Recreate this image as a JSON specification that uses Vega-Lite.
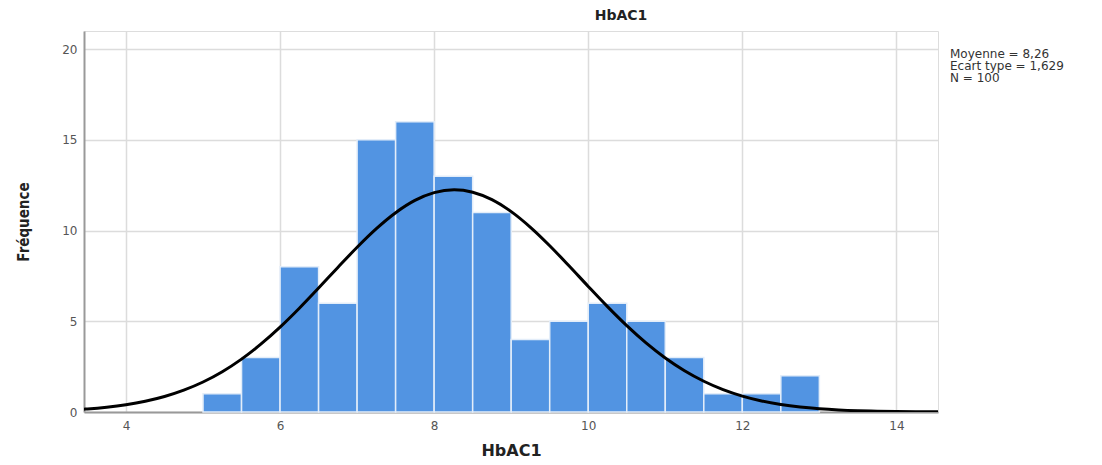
{
  "$schema": "https://vega.github.io/schema/vega-lite/v6.json",
  "autosize": "none",
  "width": 854,
  "height": 381,
  "padding": {"left": 84, "top": 31, "right": 164, "bottom": 53},
  "background": "white",
  "title": {"text": "HbAC1", "fontSize": 14, "fontWeight": "bold", "font": "DejaVu Sans", "color": "#222222", "anchor": "middle", "dx": 110, "offset": 8},
  "datasets": {
    "bins": [
      {"lo": 5.0, "hi": 5.5, "n": 1},
      {"lo": 5.5, "hi": 6.0, "n": 3},
      {"lo": 6.0, "hi": 6.5, "n": 8},
      {"lo": 6.5, "hi": 7.0, "n": 6},
      {"lo": 7.0, "hi": 7.5, "n": 15},
      {"lo": 7.5, "hi": 8.0, "n": 16},
      {"lo": 8.0, "hi": 8.5, "n": 13},
      {"lo": 8.5, "hi": 9.0, "n": 11},
      {"lo": 9.0, "hi": 9.5, "n": 4},
      {"lo": 9.5, "hi": 10.0, "n": 5},
      {"lo": 10.0, "hi": 10.5, "n": 6},
      {"lo": 10.5, "hi": 11.0, "n": 5},
      {"lo": 11.0, "hi": 11.5, "n": 3},
      {"lo": 11.5, "hi": 12.0, "n": 1},
      {"lo": 12.0, "hi": 12.5, "n": 1},
      {"lo": 12.5, "hi": 13.0, "n": 2}
    ],
    "curve": [
      {"x": 3.455, "y": 0.158}, {"x": 3.5, "y": 0.171}, {"x": 3.75, "y": 0.265}, {"x": 4.0, "y": 0.401},
      {"x": 4.25, "y": 0.592}, {"x": 4.5, "y": 0.853}, {"x": 4.75, "y": 1.202}, {"x": 5.0, "y": 1.653},
      {"x": 5.25, "y": 2.221}, {"x": 5.5, "y": 2.915}, {"x": 5.75, "y": 3.737}, {"x": 6.0, "y": 4.678},
      {"x": 6.25, "y": 5.72}, {"x": 6.5, "y": 6.832}, {"x": 6.75, "y": 7.969}, {"x": 7.0, "y": 9.08},
      {"x": 7.25, "y": 10.105}, {"x": 7.5, "y": 10.983}, {"x": 7.75, "y": 11.66}, {"x": 8.0, "y": 12.091},
      {"x": 8.26, "y": 12.246}, {"x": 8.5, "y": 12.114}, {"x": 8.75, "y": 11.704}, {"x": 9.0, "y": 11.046},
      {"x": 9.25, "y": 10.181}, {"x": 9.5, "y": 9.166}, {"x": 9.75, "y": 8.06}, {"x": 10.0, "y": 6.922},
      {"x": 10.25, "y": 5.807}, {"x": 10.5, "y": 4.758}, {"x": 10.75, "y": 3.807}, {"x": 11.0, "y": 2.976},
      {"x": 11.25, "y": 2.272}, {"x": 11.5, "y": 1.694}, {"x": 11.75, "y": 1.234}, {"x": 12.0, "y": 0.878},
      {"x": 12.25, "y": 0.61}, {"x": 12.5, "y": 0.414}, {"x": 12.75, "y": 0.274}, {"x": 13.0, "y": 0.178},
      {"x": 13.25, "y": 0.112}, {"x": 13.5, "y": 0.069}, {"x": 13.75, "y": 0.042}, {"x": 14.0, "y": 0.025},
      {"x": 14.25, "y": 0.014}, {"x": 14.54, "y": 0.007}
    ],
    "stats": [
      {"label": "Moyenne = 8,26"},
      {"label": "Ecart type = 1,629"},
      {"label": "N = 100"}
    ]
  },
  "layer": [
    {
      "data": {"name": "bins"},
      "mark": {"type": "rect", "color": "#5294e2", "stroke": "#e3edf9", "strokeWidth": 1.5},
      "encoding": {
        "x": {"field": "lo", "type": "quantitative", "scale": {"domain": [3.455, 14.54], "nice": false, "zero": false},
          "axis": {"values": [4, 6, 8, 10, 12, 14], "format": "d", "title": "HbAC1", "ticks": false, "labelPadding": 8, "labelFontSize": 12, "labelColor": "#555555", "labelFont": "DejaVu Sans",
            "titleFont": "DejaVu Sans", "titleFontSize": 16, "titleFontWeight": "bold", "titleColor": "#222222", "titlePadding": 11,
            "grid": true, "gridColor": "#dcdcdc", "gridWidth": 1.5, "domainColor": "#999999", "domainWidth": 2}},
        "x2": {"field": "hi"},
        "y": {"field": "n", "type": "quantitative", "scale": {"domain": [0, 21], "nice": false},
          "axis": {"values": [0, 5, 10, 15, 20], "format": "d", "title": "Fréquence", "ticks": false, "labelPadding": 7, "labelFontSize": 12, "labelColor": "#555555", "labelFont": "DejaVu Sans",
            "titleFont": "DejaVu Sans Condensed", "titleFontSize": 15, "titleFontWeight": "bold", "titleColor": "#222222", "titlePadding": 30,
            "grid": true, "gridColor": "#dcdcdc", "gridWidth": 1.5, "domainColor": "#999999", "domainWidth": 2}},
        "y2": {"datum": 0}
      }
    },
    {
      "data": {"name": "curve"},
      "mark": {"type": "line", "color": "#000000", "strokeWidth": 3, "interpolate": "monotone", "clip": true},
      "encoding": {
        "x": {"field": "x", "type": "quantitative"},
        "y": {"field": "y", "type": "quantitative"}
      }
    },
    {
      "data": {"name": "stats"},
      "mark": {"type": "point", "opacity": 0},
      "encoding": {
        "color": {"field": "label", "type": "nominal",
          "scale": {"domain": ["Moyenne = 8,26", "Ecart type = 1,629", "N = 100"], "range": ["#000000", "#000000", "#000000"]},
          "legend": {"title": null, "orient": "none", "legendX": 854, "legendY": 17, "symbolSize": 0, "symbolOpacity": 0, "symbolStrokeWidth": 0, "labelOffset": 0,
            "labelFontSize": 12, "labelFont": "DejaVu Sans", "labelColor": "#333333", "rowPadding": 0, "padding": 0}}
      }
    }
  ]
}
